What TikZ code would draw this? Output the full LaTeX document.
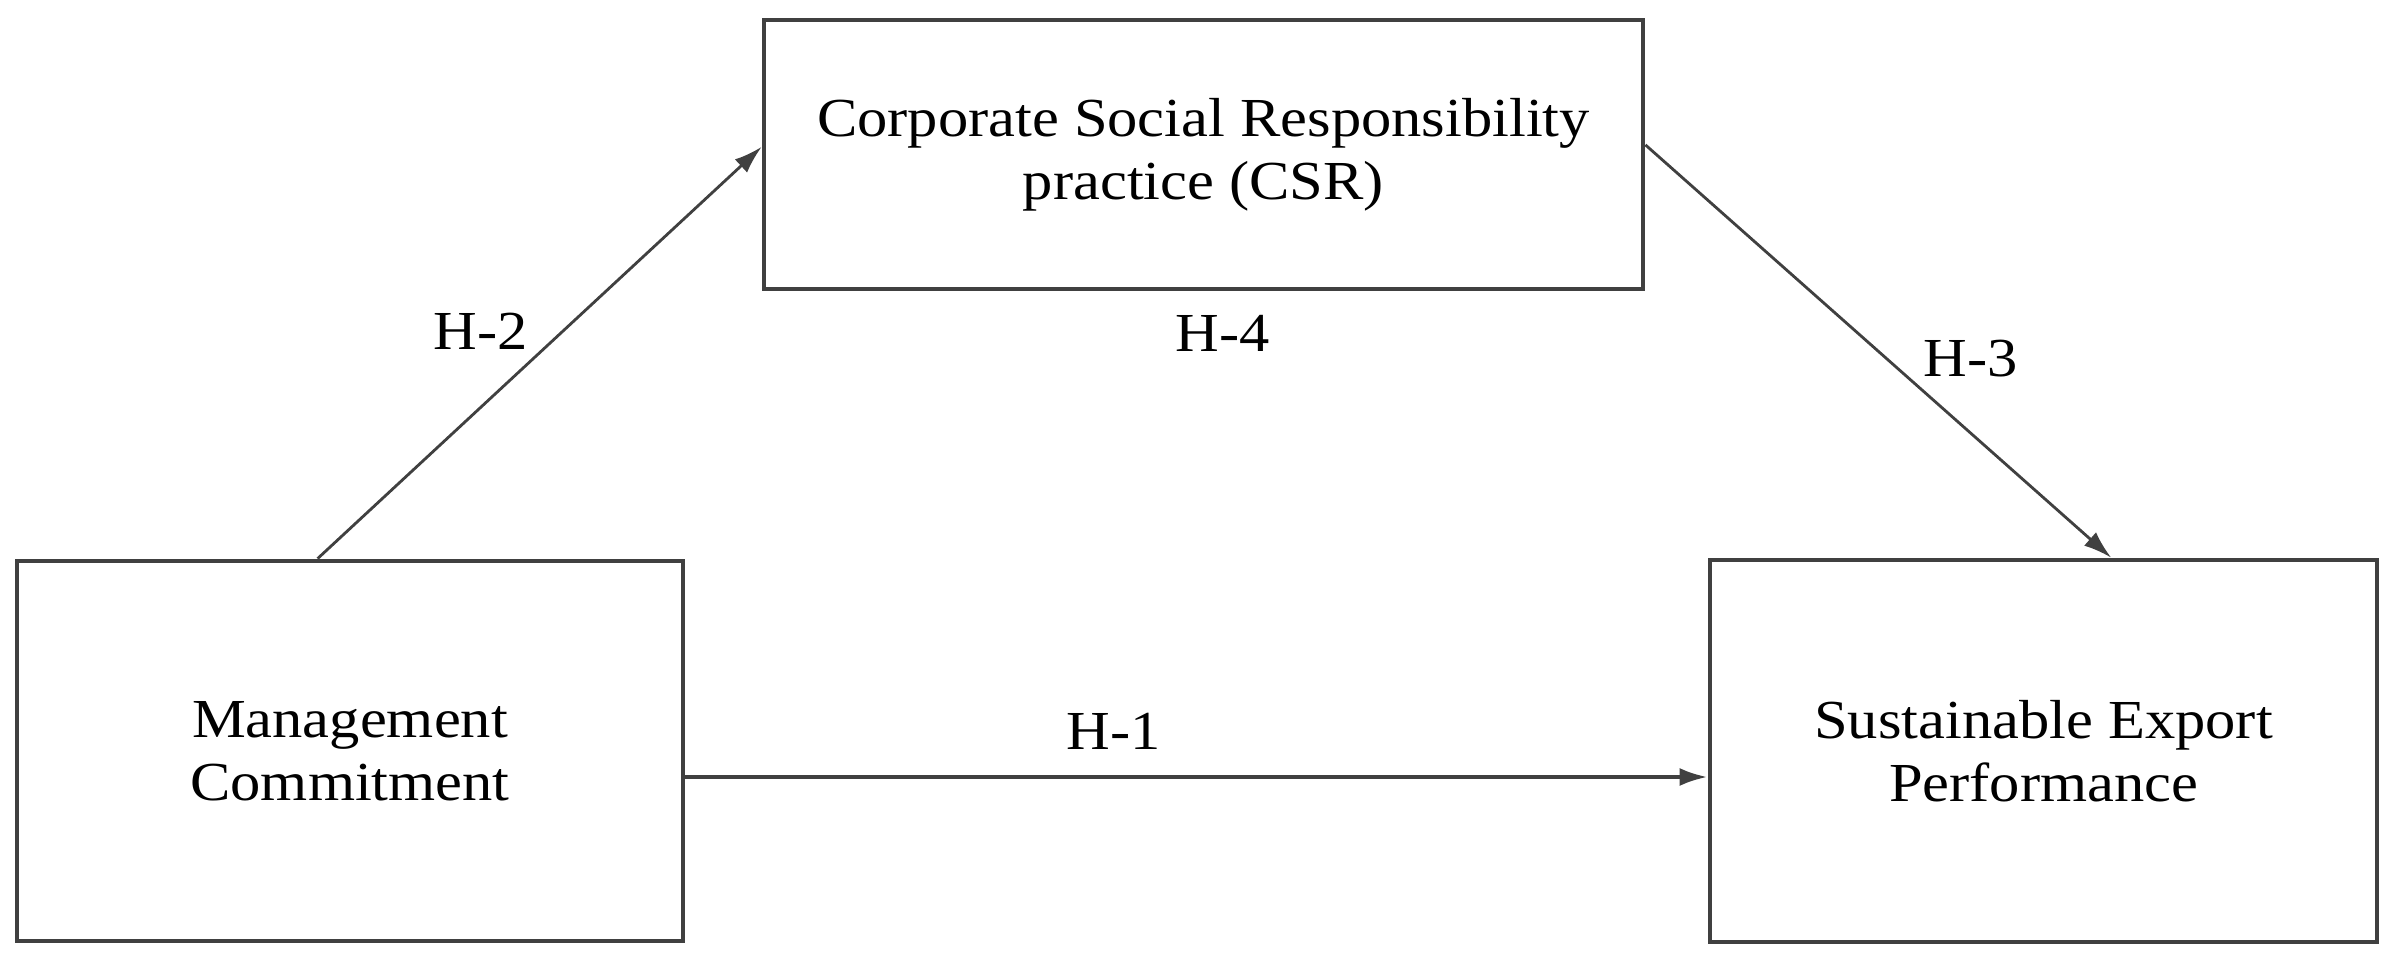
\documentclass[tikz,border=0pt]{standalone}
\usepackage{fontspec}
\setmainfont{Liberation Serif}[FakeStretch=1.1]
\usetikzlibrary{arrows.meta}
\begin{document}
\begin{tikzpicture}[x=0.25pt,y=-0.25pt,
  box/.style={draw=black!75, line width=1.2pt, rectangle, inner sep=0pt, align=center,
    font=\fontsize{13.75pt}{15.75pt}\selectfont},
  arr/.style={draw=black!75, line width=0.7pt, -{Latex[length=7pt,width=4.5pt]}},
  hlab/.style={anchor=base, inner sep=0pt, font=\fontsize{13.75pt}{15.75pt}\selectfont}]
\useasboundingbox[fill=white] (0,0) rectangle (2396,960);
\node[box, minimum width=166.5pt, minimum height=95pt] (mc) at (350,751) {Management\\Commitment};
\node[box, minimum width=166.75pt, minimum height=95.5pt] (sep) at (2043.5,751) {Sustainable Export\\Performance};
\node[box, minimum width=219.75pt, minimum height=67.25pt] (csr) at (1203.5,154.5) {Corporate Social Responsibility\\practice (CSR)};
\draw[arr] ([xshift=75.75pt]mc.north west) -- ([yshift=1.9pt]csr.west);
\draw[arr] ([yshift=2.4pt]csr.east) -- ([xshift=16.9pt]sep.north);
\draw[arr, line width=1pt] ([yshift=-6.5pt]mc.east) -- ([yshift=-6.5pt]sep.west);
\node[hlab] (h2) at (481,350) {H-2};
\node[hlab] (h4) at (1223,352) {H-4};
\node[hlab] (h3) at (1971,377) {H-3};
\node[hlab] (h1) at (1114,749) {H-1};
\end{tikzpicture}
\end{document}
